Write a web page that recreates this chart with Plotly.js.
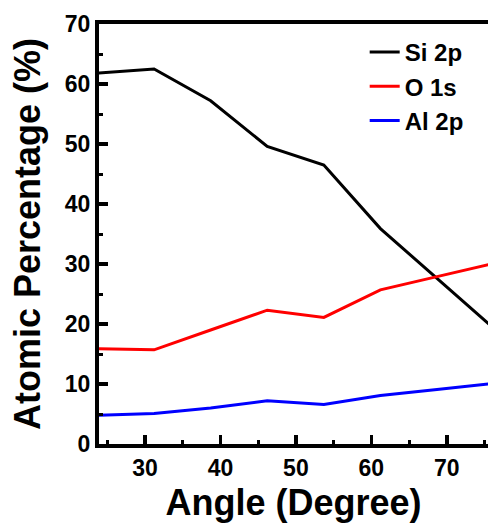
<!DOCTYPE html>
<html>
<head>
<meta charset="utf-8">
<script src="https://cdn.plot.ly/plotly-3.0.1.min.js"></script>
<style>html,body{margin:0;padding:0;background:#fff;}#chart{width:488px;height:523px;}</style>
</head>
<body>
<div id="chart"></div>
<script>
const angles = [23.7, 31.2, 38.7, 46.2, 53.7, 61.2, 68.7, 76.2];
const si2p = [61.8, 62.5, 57.2, 49.6, 46.5, 35.9, 27.6, 19.3];
const o1s = [15.9, 15.7, 19.0, 22.3, 21.1, 25.7, 27.9, 30.1];
const al2p = [4.8, 5.1, 6.0, 7.2, 6.6, 8.1, 9.1, 10.1];
const seriesNames = ['Si 2p', 'O 1s', 'Al 2p'];
const seriesColors = ['#000000', '#ff0000', '#0000ff'];
const seriesValues = [si2p, o1s, al2p];

const FONT = 'Liberation Sans, Arial, sans-serif';

const traces = seriesValues.map((vals, i) => ({
  x: angles, y: vals, type: 'scatter', mode: 'lines',
  name: seriesNames[i], legendgroup: 'g' + i,
  line: {color: seriesColors[i], width: 3}
}));

const layout = {
  width: 488, height: 523,
  margin: {l: 99, r: 0, t: 24, b: 79, pad: 0},
  paper_bgcolor: '#fff', plot_bgcolor: '#fff',
  font: {family: FONT, color: '#000', weight: 'bold'},
  showlegend: true,
  legend: {
    x: 0.683, y: 0.986, xanchor: 'left', yanchor: 'top',
    bgcolor: 'rgba(0,0,0,0)', borderwidth: 0,
    font: {family: FONT, size: 24, color: '#000', weight: 'bold'},
    tracegroupgap: 0
  },
  xaxis: {
    range: [23.9, 75.46], tick0: 0, dtick: 10,
    ticks: 'inside', ticklen: 9, tickwidth: 3.5, tickcolor: '#000',
    minor: {dtick: 5, ticks: 'inside', ticklen: 4, tickwidth: 3, tickcolor: '#000'},
    showline: true, linewidth: 4, linecolor: '#000', mirror: true,
    showgrid: false, zeroline: false,
    tickfont: {family: FONT, size: 23, color: '#000', weight: 'bold'},
    title: {text: 'Angle (Degree)', font: {family: FONT, size: 36, color: '#000', weight: 'bold'}, standoff: 13}
  },
  yaxis: {
    range: [0, 70], tick0: 0, dtick: 10,
    ticks: 'inside', ticklen: 9, tickwidth: 3.5, tickcolor: '#000',
    minor: {dtick: 5, ticks: 'inside', ticklen: 4, tickwidth: 3, tickcolor: '#000'},
    showline: true, linewidth: 4, linecolor: '#000', mirror: false,
    showgrid: false, zeroline: false,
    tickfont: {family: FONT, size: 23, color: '#000', weight: 'bold'},
    title: {text: 'Atomic Percentage (%)', font: {family: FONT, size: 36, color: '#000', weight: 'bold'}, standoff: 14}
  }
};

Plotly.newPlot('chart', traces, layout, {displayModeBar: false, staticPlot: true});
</script>
</body>
</html>
